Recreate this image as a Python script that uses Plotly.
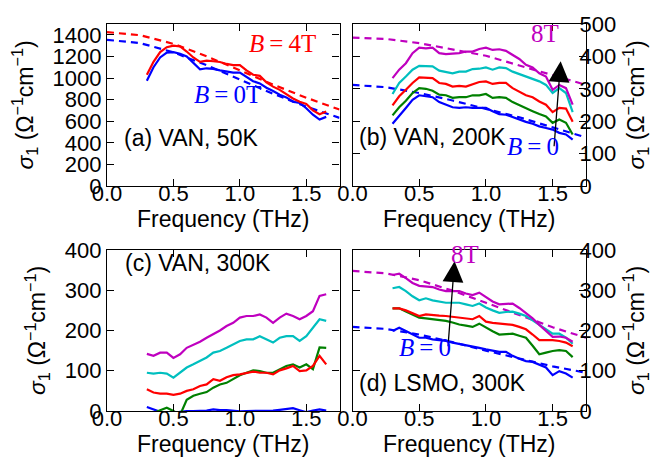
import plotly.graph_objects as go

# ---------------- data ----------------
freq = [0.30, 0.35, 0.40, 0.45, 0.50, 0.55, 0.60, 0.65, 0.70, 0.75, 0.80, 0.85, 0.90, 0.95,
        1.00, 1.05, 1.10, 1.15, 1.20, 1.25, 1.30, 1.35, 1.40, 1.45, 1.50, 1.55, 1.60, 1.65]
fit_freq = [0.0, 0.25, 0.5, 0.75, 1.0, 1.25, 1.5, 1.75]

# (a) VAN 50K
a_4T = [1030, 1150, 1240, 1285, 1300, 1292, 1245, 1190, 1150, 1160, 1155, 1148, 1130, 1120,
        1120, 1070, 1030, 1020, 960, 920, 890, 850, 810, 780, 760, 700, 665, 690]
a_0T = [975, 1100, 1190, 1235, 1240, 1225, 1200, 1140, 1080, 1090, 1085, 1070, 1060, 1050,
        1050, 1010, 970, 950, 910, 880, 845, 820, 780, 770, 720, 660, 615, 640]
a_fit_4T = [1425, 1396, 1316, 1201, 1071, 939, 817, 708]
a_fit_0T = [1354, 1323, 1238, 1118, 985, 854, 735, 631]

# (b) VAN 200K  (B = 0, 2, 4, 6, 8 T)
b_0 = [192, 218, 241, 266, 280, 277, 274, 259, 251, 243, 241, 243, 241, 241,
       241, 231, 222, 220, 212, 205, 198, 192, 184, 179, 174, 164, 159, 143]
b_2 = [218, 243, 263, 287, 302, 300, 294, 282, 280, 272, 274, 274, 280, 280,
       284, 272, 274, 272, 259, 249, 241, 231, 222, 215, 195, 205, 195, 159]
b_4 = [249, 277, 297, 318, 335, 335, 333, 318, 315, 307, 309, 307, 315, 321,
       323, 315, 318, 318, 302, 292, 280, 274, 261, 251, 228, 241, 239, 198]
b_6 = [284, 318, 338, 359, 371, 371, 369, 356, 351, 348, 353, 353, 361, 362,
       366, 359, 366, 364, 353, 345, 338, 330, 323, 312, 287, 302, 287, 228]
b_8 = [333, 359, 379, 410, 427, 425, 427, 410, 407, 408, 410, 415, 415, 423,
       427, 420, 422, 417, 405, 392, 374, 366, 348, 338, 297, 312, 302, 251]
b_fit_8 = [458, 454, 441, 422, 402, 372, 343, 312]
b_fit_0 = [312, 305, 287, 264, 238, 212, 181, 150]

# (c) VAN 300K
c_0 = [10, 4, -2, -4, -5, -2, 0, 0, 0, 1, 4, 2, 2, 0,
       -1, 0, 0, 0, 0, 1, 3, 5, 7, 2, -3, 1, 4, 1]
c_2 = [-20, -5, 2, 8, 0, -10, 28, 38, 43, 47, 58, 66, 70, 79,
       89, 95, 101, 99, 95, 95, 104, 112, 116, 108, 116, 104, 158, 157]
c_4 = [54, 46, 43, 43, 40, 43, 50, 54, 62, 66, 79, 75, 84, 89,
       91, 95, 98, 95, 95, 91, 101, 106, 112, 99, 101, 112, 137, 116]
c_6 = [95, 93, 95, 93, 83, 95, 108, 116, 124, 133, 145, 149, 157, 166,
       174, 178, 178, 186, 178, 170, 182, 186, 186, 174, 186, 207, 228, 224]
c_8 = [142, 137, 145, 145, 132, 141, 157, 164, 172, 182, 190, 200, 211, 219,
       232, 236, 236, 240, 232, 219, 232, 242, 236, 228, 236, 248, 286, 290]

# (d) LSMO 300K
d_0 = [199, 207, 199, 190, 182, 182, 178, 176, 174, 170, 167, 164, 161, 157,
       153, 150, 147, 147, 137, 130, 124, 122, 114, 108, 89, 99, 93, 83]
d_2 = [255, 255, 247, 240, 232, 230, 228, 226, 224, 220, 215, 212, 209, 217,
       207, 198, 190, 191, 192, 187, 182, 162, 141, 145, 149, 151, 149, 134]
d_4 = [255, 255, 250, 243, 236, 240, 238, 237, 236, 234, 232, 230, 228, 236,
       222, 219, 217, 215, 214, 209, 203, 190, 176, 176, 176, 174, 170, 161]
d_6 = [305, 308, 298, 285, 275, 280, 275, 272, 269, 269, 269, 265, 261, 267,
       257, 250, 244, 246, 247, 242, 236, 225, 214, 203, 192, 192, 182, 167]
d_8 = [338, 341, 330, 318, 311, 310, 308, 302, 298, 298, 298, 292, 288, 294,
       282, 272, 265, 266, 267, 256, 244, 230, 214, 198, 184, 185, 182, 172]
d_fit_8 = [348, 342, 325, 299, 269, 238, 208, 182]
d_fit_0 = [209, 204, 190, 171, 150, 130, 111, 95]

x_ticks = [0.0, 0.5, 1.0, 1.5]
x_ticklabels = ["0.0", "0.5", "1.0", "1.5"]

# ---------------- style ----------------
BLUE = "rgb(0,0,255)"
GREEN = "rgb(0,128,0)"
RED = "rgb(255,0,0)"
CYAN = "rgb(0,191,191)"
MAG = "rgb(191,0,191)"
LW = 2.2
SANS = "Liberation Sans, Arial, sans-serif"
SERIF = "Liberation Serif, Times New Roman, serif"
FS = 22
FT = 23

fig = go.Figure()

def line(x, y, color, xa, ya, dash=None):
    fig.add_trace(go.Scatter(x=x, y=y, mode="lines", xaxis=xa, yaxis=ya,
                             line=dict(color=color, width=LW, dash=dash),
                             showlegend=False, hoverinfo="skip"))

DASH = "7px,5px"
# panel a
line(fit_freq, a_fit_0T, BLUE, "x", "y", DASH)
line(fit_freq, a_fit_4T, RED, "x", "y", DASH)
line(freq, a_0T, BLUE, "x", "y")
line(freq, a_4T, RED, "x", "y")
# panel b
line(fit_freq, b_fit_8, MAG, "x2", "y2", DASH)
line(fit_freq, b_fit_0, BLUE, "x2", "y2", DASH)
for ys, col in [(b_0, BLUE), (b_2, GREEN), (b_4, RED), (b_6, CYAN), (b_8, MAG)]:
    line(freq, ys, col, "x2", "y2")
# panel c
for ys, col in [(c_0, BLUE), (c_2, GREEN), (c_4, RED), (c_6, CYAN), (c_8, MAG)]:
    line(freq, ys, col, "x3", "y3")
# panel d
line(fit_freq, d_fit_8, MAG, "x4", "y4", DASH)
line(fit_freq, d_fit_0, BLUE, "x4", "y4", DASH)
for ys, col in [(d_0, BLUE), (d_2, GREEN), (d_4, RED), (d_6, CYAN), (d_8, MAG)]:
    line(freq, ys, col, "x4", "y4")

W, H = 660, 460
def px_x(a, b):
    return [a / W, b / W]
def px_y(top, bot):
    return [1 - bot / H, 1 - top / H]

ytitle = "<i>σ</i><sub>1</sub> (Ω<sup>−1</sup>cm<sup>−1</sup>)"

common_x = dict(range=[0, 1.75], tickvals=x_ticks, ticktext=x_ticklabels,
                ticks="inside", ticklen=7, tickwidth=1, tickcolor="black",
                showline=True, linecolor="black", linewidth=1.2, mirror="allticks",
                showgrid=False, zeroline=False, automargin=False,
                ticklabelstandoff=-13,
                tickfont=dict(family=SANS, size=FS, color="black"),
                title=dict(text="Frequency (THz)", font=dict(family=SANS, size=FT, color="black"),
                           standoff=6))
common_y = dict(ticks="inside", ticklen=7, tickwidth=1, tickcolor="black",
                showline=True, linecolor="black", linewidth=1.2, mirror="allticks",
                showgrid=False, zeroline=False, automargin=False,
                tickfont=dict(family=SANS, size=FS, color="black"),
                title=dict(text=ytitle, font=dict(family=SANS, size=FT, color="black"),
                           standoff=12))

xa_a, xa_b = px_x(99, 331.5), px_x(344.5, 578)
ya_top, ya_bot = px_y(16, 178), px_y(242, 403)

fig.update_layout(
    width=W, height=H, margin=dict(l=0, r=0, t=0, b=0),
    paper_bgcolor="white", plot_bgcolor="white", showlegend=False,
    xaxis=dict(common_x, domain=xa_a, anchor="y"),
    yaxis=dict(common_y, domain=ya_top, anchor="x", range=[0, 1500],
               tickvals=[0, 200, 400, 600, 800, 1000, 1200, 1400]),
    xaxis2=dict(common_x, domain=xa_b, anchor="y2"),
    yaxis2=dict(common_y, domain=ya_top, anchor="x2", range=[0, 500], side="right",
                ticklabelstandoff=-12, tickvals=[0, 100, 200, 300, 400, 500]),
    xaxis3=dict(common_x, domain=xa_a, anchor="y3"),
    yaxis3=dict(common_y, domain=ya_bot, anchor="x3", range=[0, 400],
                tickvals=[0, 100, 200, 300, 400]),
    xaxis4=dict(common_x, domain=xa_b, anchor="y4"),
    yaxis4=dict(common_y, domain=ya_bot, anchor="x4", range=[0, 400], side="right",
                ticklabelstandoff=-12, tickvals=[0, 100, 200, 300, 400]),
)

def text(xr, yr, x, y, s, color="black", family=SANS, size=FT, xanchor="left"):
    fig.add_annotation(xref=xr, yref=yr, x=x, y=y, text=s, showarrow=False,
                       xanchor=xanchor, yanchor="middle", xshift=-8, yshift=8,
                       font=dict(family=family, size=size, color=color))

def arrow(xr, yr, x0, y0, x1, y1):
    fig.add_annotation(xref=xr, yref=yr, axref=xr, ayref=yr, x=x1, y=y1, ax=x0, ay=y0,
                       text="", showarrow=True, arrowhead=2, arrowsize=3.2,
                       arrowwidth=1.3, arrowcolor="black", standoff=0, startstandoff=0)

MS = 25
# panel a
text("x", "y", 0.17, 369, "(a) VAN, 50K")
text("x", "y", 1.38, 1250, "<i>B</i>\u2009=\u20094T", RED, SERIF, MS, "center")
text("x", "y", 0.97, 770, "<i>B</i>\u2009=\u20090T", BLUE, SERIF, MS, "center")
# panel b
text("x2", "y2", 0.096, 128, "(b) VAN, 200K")
arrow("x2", "y2", 1.51, 118, 1.56, 385)
text("x2", "y2", 1.50, 447, "8T", MAG, SERIF, MS, "center")
text("x2", "y2", 1.41, 97, "<i>B</i>\u2009=\u20090", BLUE, SERIF, MS, "center")
# panel c
text("x3", "y3", 0.18, 348, "(c) VAN, 300K")
# panel d
text("x4", "y4", 0.096, 50, "(d) LSMO, 300K")
arrow("x4", "y4", 0.715, 157, 0.765, 372)
text("x4", "y4", 0.90, 368, "8T", MAG, SERIF, MS, "center")
text("x4", "y4", 0.60, 137, "<i>B</i>\u2009=\u20090", BLUE, SERIF, MS, "center")

fig.write_html("out.html")
